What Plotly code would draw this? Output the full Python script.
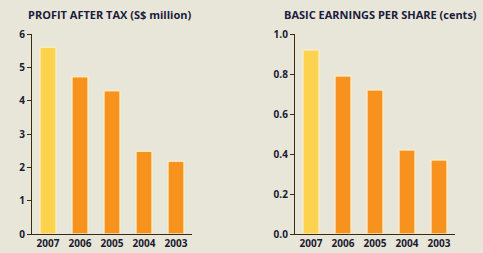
import plotly.graph_objects as go

years = ["2007", "2006", "2005", "2004", "2003"]
profit = [5.6, 4.72, 4.3, 2.48, 2.18]
eps = [0.92, 0.79, 0.72, 0.42, 0.37]
colors = ["#fdd24f", "#f7921e", "#f7921e", "#f7921e", "#f7921e"]
titles = ["PROFIT AFTER TAX (S$ million)", "BASIC EARNINGS PER SHARE (cents)"]

W, H = 483, 253
bg = "#e8e6d8"
fig = go.Figure()
for i, vals in enumerate([profit, eps]):
    xa = "x" if i == 0 else "x2"
    ya = "y" if i == 0 else "y2"
    fig.add_trace(go.Bar(x=years, y=vals, xaxis=xa, yaxis=ya,
                         marker=dict(color=colors, line=dict(color="rgba(250,236,200,0.9)", width=1.5)),
                         width=0.5, showlegend=False, hoverinfo="skip"))

axfont = dict(family="Open Sans", size=10, color="#1a1a30", weight="bold")
left_dom = [32 / W, 192 / W]
right_dom = [295 / W, 455 / W]
ydom = [1 - 234 / H, 1 - 34 / H]
common_x = dict(showgrid=False, showline=True, linecolor="#3a2a10", linewidth=1.2,
                ticks="", tickfont=axfont, range=[-0.5, 4.5], fixedrange=True, automargin=False)
common_y = dict(showgrid=False, showline=True, linecolor="#3a2a10", linewidth=1.2,
                ticks="outside", ticklen=4, tickcolor="#3a2a10", tickfont=axfont,
                zeroline=False, automargin=False)
fig.update_layout(
    width=W, height=H, margin=dict(l=0, r=0, t=0, b=0, autoexpand=False),
    paper_bgcolor=bg, plot_bgcolor=bg, bargap=0.5,
    xaxis=dict(domain=left_dom, anchor="y", **common_x),
    yaxis=dict(domain=ydom, anchor="x", range=[0, 6], dtick=1, **common_y),
    xaxis2=dict(domain=right_dom, anchor="y2", **common_x),
    yaxis2=dict(domain=ydom, anchor="x2", range=[0, 1.0], dtick=0.2, tickformat=".1f", **common_y),
)
tfont = dict(family="Open Sans", size=11, color="#1b1b3d", weight="bold")
fig.add_annotation(text=titles[0], x=26 / W, y=1 - 14 / H, xref="paper", yref="paper",
                   xanchor="left", yanchor="middle", showarrow=False, font=tfont)
fig.add_annotation(text=titles[1], x=282 / W, y=1 - 14 / H, xref="paper", yref="paper",
                   xanchor="left", yanchor="middle", showarrow=False, font=tfont)
fig.write_html("out.html")
